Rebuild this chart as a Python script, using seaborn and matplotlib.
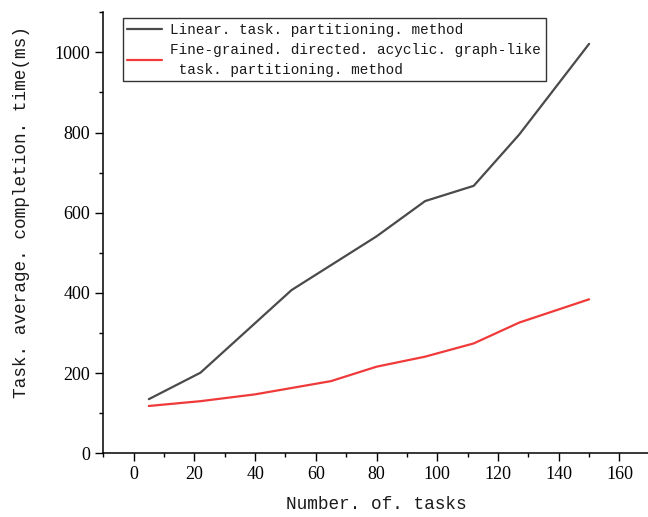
import matplotlib
matplotlib.use("Agg")
import matplotlib.pyplot as plt
from matplotlib.ticker import MultipleLocator
import seaborn as sns
import pandas as pd

# Data
linear_x = [5, 22, 52, 80, 96, 112, 127, 150]
linear_y = [135, 201, 407, 541, 629, 667, 795, 1021]
dag_x = [5, 22, 40, 65, 80, 96, 112, 127, 150]
dag_y = [118, 130, 147, 180, 216, 241, 274, 326, 384]

label_linear = "Linear. task. partitioning. method"
label_dag = "Fine-grained. directed. acyclic. graph-like\n task. partitioning. method"
x_label = "Number. of. tasks"
y_label = "Task. average. completion. time(ms)"
x_ticks = [0, 20, 40, 60, 80, 100, 120, 140, 160]
y_ticks = [0, 200, 400, 600, 800, 1000]

sns.set_style("ticks")
plt.rcParams["font.family"] = ["Liberation Serif", "DejaVu Serif"]

df_linear = pd.DataFrame({"x": linear_x, "y": linear_y})
df_dag = pd.DataFrame({"x": dag_x, "y": dag_y})

fig = plt.figure(figsize=(6.48, 5.17), dpi=100)
top_px = 12.2
ax = fig.add_axes([103.3 / 648, 1 - 453.3 / 517, (649.8 - 103.3) / 648, (453.3 - top_px) / 517])

sns.lineplot(data=df_linear, x="x", y="y", ax=ax, color="#4a4a4a", linewidth=1.6, label=label_linear)
sns.lineplot(data=df_dag, x="x", y="y", ax=ax, color="#f03a3a", linewidth=1.6, label=label_dag)

ax.set_xlim(-10, 170)
ax.set_ylim(0, 1100)
ax.set_xticks(x_ticks)
ax.set_yticks(y_ticks)
ax.xaxis.set_minor_locator(MultipleLocator(10))
ax.yaxis.set_minor_locator(MultipleLocator(100))
ax.tick_params(axis="both", which="major", direction="out", length=5.5, width=1.0,
               labelsize=13, color="black", labelcolor="black", pad=4)
ax.tick_params(axis="both", which="minor", direction="out", length=3, width=1.0, color="black")
for lab in ax.get_xticklabels() + ax.get_yticklabels():
    lab.set_family(["Liberation Serif", "DejaVu Serif"])

sns.despine(ax=ax)
for s in ["left", "bottom"]:
    ax.spines[s].set_linewidth(1.1)
    ax.spines[s].set_color("black")

ax.set_xlabel(x_label, family=["Liberation Mono", "DejaVu Sans Mono"], fontsize=12.8, color="#1a1a1a")
ax.set_ylabel(y_label, family=["Liberation Mono", "DejaVu Sans Mono"], fontsize=12.8, color="#1a1a1a")
# place labels where the reference has them (in pixel terms)
ax_h = 453.3 - top_px
ax_w = 649.8 - 103.3
ax.yaxis.set_label_coords((30 - 103.3) / ax_w, (453.3 - 212) / ax_h)
ax.xaxis.set_label_coords((376 - 103.3) / ax_w, -(496 - 453.3) / ax_h)

leg = ax.legend(loc="upper left", bbox_to_anchor=(122.7 / 648, 1 - 18.3 / 517),
                bbox_transform=fig.transFigure, frameon=True, fancybox=False,
                edgecolor="#333333", framealpha=1, borderpad=0.3, labelspacing=0.45,
                handlelength=2.4, handletextpad=0.6, borderaxespad=0,
                prop={"family": ["Liberation Mono", "DejaVu Sans Mono"], "size": 10.4})
leg.get_frame().set_linewidth(1.0)
for t in leg.get_texts():
    t.set_linespacing(1.5)
    t.set_color("#1a1a1a")

fig.savefig("out.png", dpi=100)
